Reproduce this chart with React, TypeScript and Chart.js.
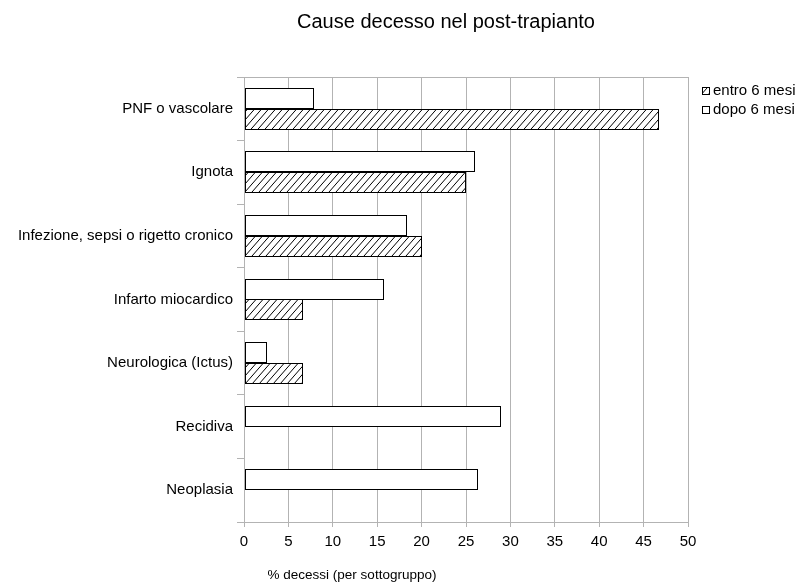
import React, { useEffect, useRef } from "react";
import { Chart, registerables } from "chart.js";

Chart.register(...registerables);

const titleText = "Cause decesso nel post-trapianto";
const xAxisTitle = "% decessi (per sottogruppo)";
const categories = [
  "PNF o vascolare",
  "Ignota",
  "Infezione, sepsi o rigetto cronico",
  "Infarto miocardico",
  "Neurologica (Ictus)",
  "Recidiva",
  "Neoplasia",
];
const seriesAfterLabel = "dopo 6 mesi";
const seriesWithinLabel = "entro 6 mesi";
const afterSixMonths = [7.9, 26.0, 18.4, 15.8, 2.6, 28.9, 26.3];
const withinSixMonths: (number | null)[] = [46.7, 25.0, 20.0, 6.7, 6.7, null, null];
const xMin = 0;
const xMax = 50;
const xStep = 5;

const FONT = "'Liberation Sans', Arial, sans-serif";
const GRID = "#b3b3b3";

function makeHatch(): CanvasPattern | string {
  const w = 7;
  const h = 8;
  const c = document.createElement("canvas");
  c.width = w;
  c.height = h;
  const g = c.getContext("2d");
  if (!g) return "#ffffff";
  g.fillStyle = "#ffffff";
  g.fillRect(0, 0, w, h);
  g.strokeStyle = "#000000";
  g.lineWidth = 1;
  g.beginPath();
  g.moveTo(-1, h + h / w);
  g.lineTo(w + 1, -h / w);
  g.moveTo(-1 - w, h + h / w);
  g.lineTo(1, -h / w);
  g.moveTo(w - 1, h + h / w);
  g.lineTo(2 * w + 1, -h / w);
  g.stroke();
  const p = g.createPattern(c, "repeat");
  return p || "#ffffff";
}

// keep bar edges on whole pixels so the 1px outlines stay crisp
const snapBars = {
  id: "snapBars",
  beforeDatasetsDraw(chart: any) {
    chart.data.datasets.forEach((_: any, i: number) => {
      const meta = chart.getDatasetMeta(i);
      meta.data.forEach((el: any) => {
        const h = Math.round(el.height);
        el.height = h;
        el.x = Math.round(el.x);
        el.base = Math.round(el.base);
        el.y = h % 2 === 1 ? Math.floor(el.y) + 0.5 : Math.round(el.y);
      });
    });
  },
};

export default function App() {
  const ref = useRef<HTMLCanvasElement | null>(null);

  useEffect(() => {
    document.body.style.margin = "0";
    const canvas = ref.current;
    if (!canvas) return;
    const hatch = makeHatch();

    const decorations = {
      id: "decorations",
      afterDraw(chart: any) {
        const { ctx, chartArea } = chart;
        ctx.save();
        // top frame line of the plot area
        ctx.strokeStyle = GRID;
        ctx.lineWidth = 1;
        ctx.beginPath();
        ctx.moveTo(chartArea.left, chartArea.top + 0.5);
        ctx.lineTo(chartArea.right, chartArea.top + 0.5);
        ctx.stroke();

        // title
        ctx.fillStyle = "#000";
        ctx.textAlign = "center";
        ctx.textBaseline = "middle";
        ctx.font = `20px ${FONT}`;
        ctx.fillText(titleText, 446, 22);

        // x axis title
        ctx.font = `13.5px ${FONT}`;
        ctx.fillText(xAxisTitle, 352, 575);

        // legend
        const items = [
          { label: seriesWithinLabel, fill: hatch, y: 91 },
          { label: seriesAfterLabel, fill: "#ffffff", y: 110 },
        ];
        ctx.textAlign = "left";
        ctx.font = `15px ${FONT}`;
        for (const it of items) {
          ctx.fillStyle = it.fill as any;
          ctx.fillRect(702, it.y - 4, 7, 7);
          ctx.strokeStyle = "#000";
          ctx.strokeRect(702.5, it.y - 3.5, 7, 7);
          ctx.fillStyle = "#000";
          ctx.fillText(it.label, 713, it.y);
        }
        ctx.restore();
      },
    };

    const chart = new Chart(canvas, {
      type: "bar",
      data: {
        labels: categories,
        datasets: [
          {
            label: seriesAfterLabel,
            data: afterSixMonths,
            backgroundColor: "#ffffff",
            borderColor: "#000000",
            borderWidth: 1,
            borderSkipped: false,
          },
          {
            label: seriesWithinLabel,
            data: withinSixMonths,
            backgroundColor: hatch as any,
            borderColor: "#000000",
            borderWidth: 1,
            borderSkipped: false,
          },
        ],
      },
      options: {
        indexAxis: "y",
        responsive: false,
        animation: false,
        devicePixelRatio: 1,
        datasets: {
          bar: { barPercentage: 1, categoryPercentage: 0.66 },
        },
        layout: { padding: { left: 0, right: 116, top: 77, bottom: 0 } },
        plugins: {
          legend: { display: false },
          title: { display: false },
          tooltip: { enabled: false },
        },
        scales: {
          x: {
            type: "linear",
            min: xMin,
            max: xMax,
            ticks: {
              stepSize: xStep,
              color: "#000",
              font: { family: FONT, size: 15 },
              padding: 6,
            },
            grid: {
              color: GRID,
              tickColor: GRID,
              tickLength: 5,
              lineWidth: 1,
            },
            border: { display: true, color: GRID },
            afterFit(scale: any) {
              scale.height = 63;
            },
          },
          y: {
            type: "category",
            ticks: {
              color: "#000",
              font: { family: FONT, size: 15 },
              padding: 4,
            },
            grid: {
              offset: true,
              drawOnChartArea: false,
              color: GRID,
              tickColor: GRID,
              tickLength: 7,
            },
            border: { display: true, color: GRID },
            afterFit(scale: any) {
              scale.width = 244;
            },
          },
        },
      },
      plugins: [snapBars, decorations],
    });

    return () => chart.destroy();
  }, []);

  return (
    <div style={{ width: 804, height: 585, background: "#fff" }}>
      <canvas ref={ref} width={804} height={585} style={{ display: "block" }} />
    </div>
  );
}
